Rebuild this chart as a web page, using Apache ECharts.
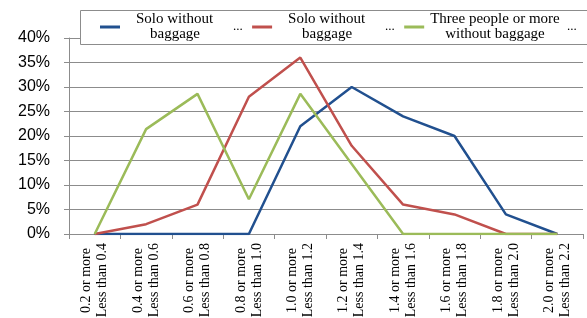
<!DOCTYPE html>
<html>
<head>
<meta charset="utf-8">
<script src="https://cdn.jsdelivr.net/npm/echarts@6/dist/echarts.min.js"></script>
<style>
html, body { margin: 0; padding: 0; background: #fff; }
#chart { width: 587px; height: 318px; }
</style>
</head>
<body>
<div id="chart"></div>
<script>
var categories = [
    '0.2 or more\nLess than 0.4',
    '0.4 or more\nLess than 0.6',
    '0.6 or more\nLess than 0.8',
    '0.8 or more\nLess than 1.0',
    '1.0 or more\nLess than 1.2',
    '1.2 or more\nLess than 1.4',
    '1.4 or more\nLess than 1.6',
    '1.6 or more\nLess than 1.8',
    '1.8 or more\nLess than 2.0',
    '2.0 or more\nLess than 2.2'
];
var seriesNames = ['Solo without\nbaggage', 'Solo without\nbaggage\u200b', 'Three people or more\nwithout baggage'];
var soloA = [0, 0, 0, 0, 22, 30, 24, 20, 4, 0];
var soloB = [0, 2, 6, 28, 36, 18, 6, 4, 0, 0];
var threeMore = [0, 21.4, 28.6, 7.1, 28.6, 14.3, 0, 0, 0, 0];

var colors = ['#21508f', '#c0504d', '#9bbb59'];
var serif = '"Liberation Serif", "Times New Roman", serif';

// centre each line of a multi-line label inside a cell of width cellW
var ctx = document.createElement('canvas').getContext('2d');
var rich = {};
var nextKey = 0;
function centred(text, size, lh, cellW, side) {
    ctx.font = size + 'px ' + serif;
    var lines = text.split('\n');
    var widths = lines.map(function (l) { return ctx.measureText(l).width; });
    var w = cellW || Math.max.apply(null, widths);
    return lines.map(function (l, i) {
        var extra = w - widths[i];
        var a = Math.round(extra / 2);
        var b = Math.max(0, Math.round(extra - a));
        var key = 'k' + (nextKey++);
        rich[key] = {
            fontFamily: serif, fontSize: size, lineHeight: lh, color: '#000',
            padding: side === 'l' ? [0, b, 0, a] : [0, a, 0, b]
        };
        return '{' + key + '|' + l + '}';
    }).join('\n');
}

var legendText = {};
seriesNames.forEach(function (n, i) {
    legendText[n] = centred(n.replace('\u200b', ''), 15, 15, i === 2 ? 132 : 100, 'l');
});
var catText = {};
categories.forEach(function (c) {
    catText[c] = centred(c, 14, 16, 0, 'r');
});

var myChart = echarts.init(document.getElementById('chart'));

function makeSeries(i, data) {
    return {
        name: seriesNames[i],
        type: 'line',
        data: data,
        symbol: 'none',
        lineStyle: { color: colors[i], width: 2.5 },
        itemStyle: { color: colors[i] }
    };
}

myChart.setOption({
    animation: false,
    grid: { left: 69, right: 4, top: 38, bottom: 84, outerBoundsMode: 'none' },
    graphic: [
        {
            type: 'rect',
            shape: { x: 80.5, y: 10.5, width: 520, height: 34 },
            style: { fill: '#fff', stroke: '#8c8c8c', lineWidth: 1 },
            z: 5
        },
        { type: 'text', x: 233, y: 20, style: { text: '...', font: '13px ' + serif, fill: '#000' }, z: 6 },
        { type: 'text', x: 385, y: 20, style: { text: '...', font: '13px ' + serif, fill: '#000' }, z: 6 },
        { type: 'text', x: 567, y: 20, style: { text: '...', font: '13px ' + serif, fill: '#000' }, z: 6 }
    ],
    legend: {
        left: 100,
        top: 12,
        padding: 0,
        itemGap: 27,
        itemWidth: 20,
        itemHeight: 3,
        icon: 'rect',
        z: 10,
        data: seriesNames,
        formatter: function (name) { return legendText[name]; },
        textStyle: {
            fontFamily: serif,
            fontSize: 15,
            color: '#000',
            rich: rich
        }
    },
    xAxis: {
        type: 'category',
        data: categories,
        boundaryGap: true,
        axisLine: { lineStyle: { color: '#8c8c8c' } },
        axisTick: { show: true, length: 5, lineStyle: { color: '#8c8c8c' } },
        axisLabel: {
            rotate: 90,
            interval: 0,
            margin: 9,
            fontFamily: serif,
            fontSize: 14,
            lineHeight: 16,
            color: '#000',
            formatter: function (v) { return catText[v]; },
            rich: rich
        }
    },
    yAxis: {
        type: 'value',
        min: 0,
        max: 40,
        interval: 5,
        axisLine: { show: true, lineStyle: { color: '#8c8c8c' } },
        axisTick: { show: true, length: 5, lineStyle: { color: '#8c8c8c' } },
        splitLine: { lineStyle: { color: '#8c8c8c' } },
        axisLabel: {
            formatter: '{value}%',
            margin: 19,
            fontFamily: '"Liberation Sans", Arial, sans-serif',
            fontSize: 16,
            color: '#000'
        }
    },
    series: [
        makeSeries(0, soloA),
        makeSeries(1, soloB),
        makeSeries(2, threeMore)
    ]
});
</script>
</body>
</html>
